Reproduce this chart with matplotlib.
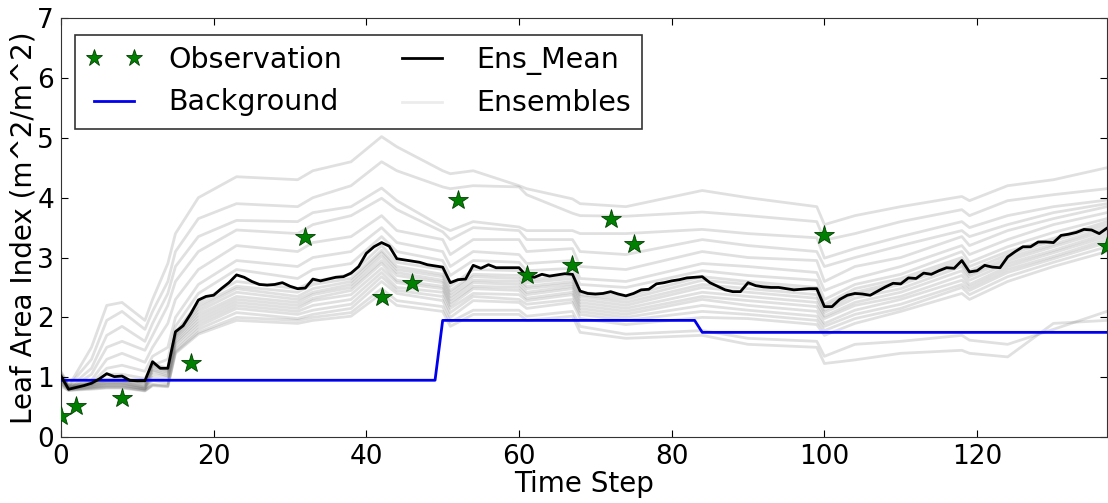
import numpy as np
import matplotlib
matplotlib.use("Agg")
import matplotlib.pyplot as plt

# observations (time step, LAI)
obs_t = [0, 2, 8, 17, 32, 42, 46, 52, 61, 67, 72, 75, 100, 137]
obs_v = [0.35, 0.52, 0.66, 1.23, 3.35, 2.34, 2.57, 3.96, 2.70, 2.87, 3.65, 3.22, 3.38, 3.19]

# background run (step changes)
bg_t = [0, 49, 50, 83, 84, 137]
bg_v = [0.95, 0.95, 1.95, 1.95, 1.75, 1.75]

# ensemble mean, one value per time step 0..137
ens_mean = [
    1.02, 0.80, 0.83, 0.86, 0.90, 0.97, 1.06, 1.01, 1.02, 0.95,
    0.94, 0.94, 1.26, 1.15, 1.15, 1.76, 1.86, 2.06, 2.29, 2.35,
    2.37, 2.48, 2.58, 2.71, 2.67, 2.60, 2.55, 2.54, 2.55, 2.58,
    2.52, 2.48, 2.49, 2.64, 2.61, 2.64, 2.67, 2.68, 2.74, 2.85,
    3.07, 3.18, 3.25, 3.19, 2.98, 2.96, 2.94, 2.92, 2.88, 2.86,
    2.84, 2.58, 2.63, 2.64, 2.87, 2.82, 2.88, 2.83, 2.83, 2.83,
    2.83, 2.69, 2.67, 2.72, 2.69, 2.71, 2.73, 2.72, 2.44, 2.40,
    2.39, 2.40, 2.43, 2.39, 2.36, 2.40, 2.46, 2.47, 2.56, 2.58,
    2.61, 2.63, 2.66, 2.67, 2.68, 2.58, 2.52, 2.46, 2.43, 2.43,
    2.58, 2.53, 2.51, 2.50, 2.50, 2.48, 2.46, 2.47, 2.48, 2.48,
    2.18, 2.18, 2.30, 2.37, 2.40, 2.39, 2.37, 2.44, 2.51, 2.57,
    2.56, 2.66, 2.65, 2.74, 2.72, 2.78, 2.83, 2.82, 2.95, 2.76,
    2.78, 2.87, 2.84, 2.83, 3.01, 3.10, 3.18, 3.18, 3.26, 3.26,
    3.25, 3.37, 3.39, 3.42, 3.47, 3.46, 3.40, 3.49,
]

# ensemble members, read at these time steps
ens_t = [0, 1, 4, 6, 8, 11, 12, 14, 15, 18, 23, 31, 33, 38, 42, 44, 50, 51,
         54, 60, 61, 67, 68, 74, 84, 90, 99, 100, 104, 110, 118, 119, 124, 130, 137]

ens_h1 = [1.05, 0.85, 1.50, 2.20, 2.25, 1.95, 2.30, 2.90, 3.40, 4.00, 4.35, 4.30, 4.45, 4.60, 5.02, 4.85, 4.45, 4.40,
          4.45, 4.20, 4.15, 3.98, 3.90, 3.85, 4.12, 4.00, 3.85, 3.55, 3.70, 3.85, 4.02, 3.95, 4.20, 4.30, 4.50]
ens_h2 = [1.00, 0.85, 1.30, 1.95, 2.10, 1.80, 2.10, 2.60, 3.10, 3.65, 3.90, 3.85, 4.00, 4.20, 4.60, 4.45, 4.18, 4.15,
          4.20, 4.18, 4.05, 3.74, 3.70, 3.69, 3.76, 3.70, 3.60, 3.29, 3.40, 3.60, 3.80, 3.70, 3.95, 4.05, 4.15]
ens_h3 = [0.95, 0.82, 1.15, 1.70, 1.85, 1.60, 1.90, 2.40, 2.85, 3.35, 3.62, 3.60, 3.75, 3.85, 4.16, 3.95, 3.51, 3.45,
          3.60, 3.51, 3.45, 3.45, 3.40, 3.40, 3.47, 3.40, 3.33, 2.99, 3.15, 3.35, 3.60, 3.50, 3.70, 3.85, 3.96]
ens_h4 = [1.00, 0.80, 1.05, 1.50, 1.60, 1.45, 1.70, 2.20, 2.60, 3.10, 3.46, 3.40, 3.55, 3.70, 3.99, 3.80, 3.43, 3.30,
          3.50, 3.45, 3.30, 3.30, 3.10, 3.05, 3.30, 3.20, 3.10, 2.85, 3.00, 3.20, 3.45, 3.35, 3.55, 3.75, 3.90]
ens_u1 = [0.95, 0.82, 0.95, 1.30, 1.40, 1.25, 1.50, 1.90, 2.30, 2.80, 3.20, 3.10, 3.25, 3.35, 3.70, 3.45, 3.30, 3.05,
          3.30, 3.30, 3.10, 3.15, 2.85, 2.80, 3.10, 3.00, 2.95, 2.60, 2.85, 3.00, 3.35, 3.20, 3.45, 3.65, 3.85]
ens_u2 = [1.05, 0.80, 0.90, 1.15, 1.20, 1.10, 1.35, 1.50, 2.00, 2.55, 2.95, 2.85, 3.00, 3.10, 3.50, 3.25, 3.10, 2.85,
          3.10, 3.05, 2.90, 2.95, 2.65, 2.60, 2.90, 2.85, 2.75, 2.45, 2.65, 2.85, 3.20, 3.05, 3.30, 3.55, 3.75]
ens_u3 = [1.00, 0.82, 0.88, 1.05, 1.05, 0.98, 1.20, 1.30, 1.85, 2.40, 2.80, 2.65, 2.80, 2.90, 3.35, 3.10, 2.95, 2.70,
          2.95, 2.92, 2.78, 2.82, 2.55, 2.50, 2.78, 2.70, 2.62, 2.30, 2.55, 2.72, 3.10, 2.92, 3.18, 3.42, 3.65]
ens_d1 = [0.88, 0.78, 0.82, 0.84, 0.84, 0.78, 0.88, 0.86, 1.45, 1.80, 2.08, 1.98, 2.05, 2.15, 2.60, 2.40, 2.28, 2.00,
          2.28, 2.25, 2.15, 2.25, 1.98, 1.88, 2.00, 1.98, 1.88, 1.70, 1.90, 2.10, 2.40, 2.30, 2.60, 2.85, 3.10]
ens_d2 = [0.92, 0.79, 0.83, 0.86, 0.86, 0.80, 0.95, 0.90, 1.50, 1.85, 2.15, 2.05, 2.12, 2.22, 2.68, 2.45, 2.35, 2.08,
          2.35, 2.30, 2.22, 2.30, 2.05, 1.95, 2.10, 2.05, 1.95, 1.78, 1.98, 2.15, 2.50, 2.38, 2.68, 2.92, 3.18]
ens_d3 = [0.98, 0.80, 0.84, 0.87, 0.87, 0.80, 1.00, 0.95, 1.55, 1.90, 2.20, 2.10, 2.20, 2.30, 2.75, 2.50, 2.42, 2.15,
          2.40, 2.38, 2.28, 2.38, 2.10, 2.00, 2.20, 2.12, 2.02, 1.85, 2.05, 2.22, 2.55, 2.45, 2.75, 2.98, 3.25]
ens_d4 = [1.05, 0.81, 0.85, 0.88, 0.88, 0.81, 1.05, 1.00, 1.58, 1.95, 2.25, 2.15, 2.28, 2.38, 2.82, 2.58, 2.48, 2.20,
          2.48, 2.45, 2.32, 2.42, 2.15, 2.05, 2.30, 2.20, 2.10, 1.90, 2.12, 2.30, 2.62, 2.50, 2.80, 3.02, 3.30]
ens_d5 = [0.90, 0.82, 0.86, 0.90, 0.90, 0.82, 1.10, 1.02, 1.62, 2.00, 2.30, 2.20, 2.32, 2.45, 2.90, 2.62, 2.52, 2.25,
          2.52, 2.50, 2.38, 2.48, 2.20, 2.10, 2.35, 2.28, 2.18, 1.98, 2.20, 2.35, 2.70, 2.55, 2.85, 3.08, 3.35]
ens_d6 = [1.00, 0.83, 0.87, 0.91, 0.91, 0.83, 1.12, 1.05, 1.65, 2.05, 2.35, 2.25, 2.38, 2.50, 2.95, 2.70, 2.58, 2.30,
          2.58, 2.55, 2.42, 2.52, 2.25, 2.15, 2.42, 2.35, 2.25, 2.02, 2.25, 2.42, 2.78, 2.62, 2.90, 3.12, 3.40]
ens_d7 = [1.08, 0.84, 0.88, 0.92, 0.92, 0.84, 1.15, 1.08, 1.68, 2.10, 2.42, 2.30, 2.42, 2.55, 3.02, 2.75, 2.62, 2.35,
          2.62, 2.60, 2.48, 2.56, 2.30, 2.20, 2.50, 2.42, 2.32, 2.08, 2.32, 2.48, 2.85, 2.68, 2.95, 3.18, 3.45]
ens_d8 = [0.95, 0.85, 0.89, 0.94, 0.94, 0.86, 1.18, 1.10, 1.70, 2.15, 2.48, 2.35, 2.48, 2.60, 3.08, 2.80, 2.68, 2.40,
          2.68, 2.65, 2.52, 2.60, 2.35, 2.25, 2.55, 2.48, 2.38, 2.12, 2.38, 2.55, 2.90, 2.72, 3.00, 3.22, 3.50]
ens_d9 = [1.02, 0.86, 0.90, 0.95, 0.95, 0.88, 1.20, 1.12, 1.72, 2.20, 2.52, 2.42, 2.55, 2.65, 3.12, 2.85, 2.72, 2.45,
          2.72, 2.70, 2.58, 2.65, 2.38, 2.30, 2.62, 2.55, 2.45, 2.18, 2.42, 2.60, 2.95, 2.78, 3.05, 3.28, 3.55]
ens_d10 = [1.10, 0.87, 0.92, 0.97, 0.97, 0.90, 1.22, 1.15, 1.75, 2.25, 2.60, 2.48, 2.60, 2.72, 3.20, 2.92, 2.80, 2.52,
           2.80, 2.78, 2.62, 2.70, 2.42, 2.35, 2.68, 2.60, 2.50, 2.22, 2.48, 2.65, 3.00, 2.85, 3.10, 3.32, 3.60]
ens_l1 = [0.85, 0.78, 0.80, 0.82, 0.82, 0.77, 0.86, 0.84, 1.40, 1.72, 1.95, 1.90, 1.95, 2.02, 2.40, 2.20, 2.10, 1.85,
          2.05, 2.05, 1.95, 2.02, 1.75, 1.65, 1.70, 1.55, 1.50, 1.23, 1.29, 1.40, 1.45, 1.40, 1.34, 1.90, 1.95]
ens_l2 = [0.90, 0.80, 0.81, 0.83, 0.83, 0.78, 0.87, 0.85, 1.42, 1.75, 2.00, 1.95, 2.00, 2.08, 2.48, 2.28, 2.18, 1.92,
          2.12, 2.12, 2.02, 2.10, 1.85, 1.72, 1.78, 1.65, 1.60, 1.35, 1.55, 1.60, 1.70, 1.62, 1.55, 1.80, 2.10]

members = [ens_h1, ens_h2, ens_h3, ens_h4, ens_u1, ens_u2, ens_u3,
           ens_d1, ens_d2, ens_d3, ens_d4, ens_d5, ens_d6, ens_d7, ens_d8, ens_d9, ens_d10,
           ens_l1, ens_l2]

fig = plt.figure(figsize=(11.08, 5.03), dpi=100)
ax = fig.add_axes([0.055, 0.131, 0.944, 0.833])

steps = np.arange(len(ens_mean))

for m in members:
    ax.plot(ens_t, m, color="0.4", alpha=0.2, lw=2, zorder=1)

bg_line, = ax.plot(bg_t, bg_v, color="#0000ee", lw=2, zorder=3)
mean_line, = ax.plot(steps, ens_mean, color="k", lw=2, zorder=4)
obs_pts, = ax.plot(obs_t, obs_v, "*", color="g", markersize=15,
                   markeredgecolor="#004000", markeredgewidth=0.6, zorder=5)
# legend proxy for the ensemble lines
ens_proxy, = ax.plot([], [], color="0.4", alpha=0.12, lw=2)

ax.set_xlim(0, 137)
ax.set_ylim(0, 7)
ax.set_xticks([0, 20, 40, 60, 80, 100, 120])
ax.set_yticks(range(8))
ax.tick_params(direction="in", top=True, right=True, labelsize=19, length=5, pad=5)
for s in ax.spines.values():
    s.set_color("#333333")

ax.set_xlabel("Time Step", fontsize=20, labelpad=0)
ax.set_ylabel("Leaf Area Index (m^2/m^2)", fontsize=20, labelpad=0)

leg = ax.legend([obs_pts, bg_line, mean_line, ens_proxy],
                ["Observation", "Background", "Ens_Mean", "Ensembles"],
                ncol=2, loc="upper left", bbox_to_anchor=(0.013, 0.96), borderaxespad=0,
                fontsize=20.5, numpoints=2, markerscale=0.85, handlelength=2.0,
                handletextpad=0.9, columnspacing=1.8, fancybox=False, framealpha=1)
leg.get_frame().set_edgecolor("#333333")
leg.get_frame().set_linewidth(1.2)

fig.savefig("out.png", dpi=100)
